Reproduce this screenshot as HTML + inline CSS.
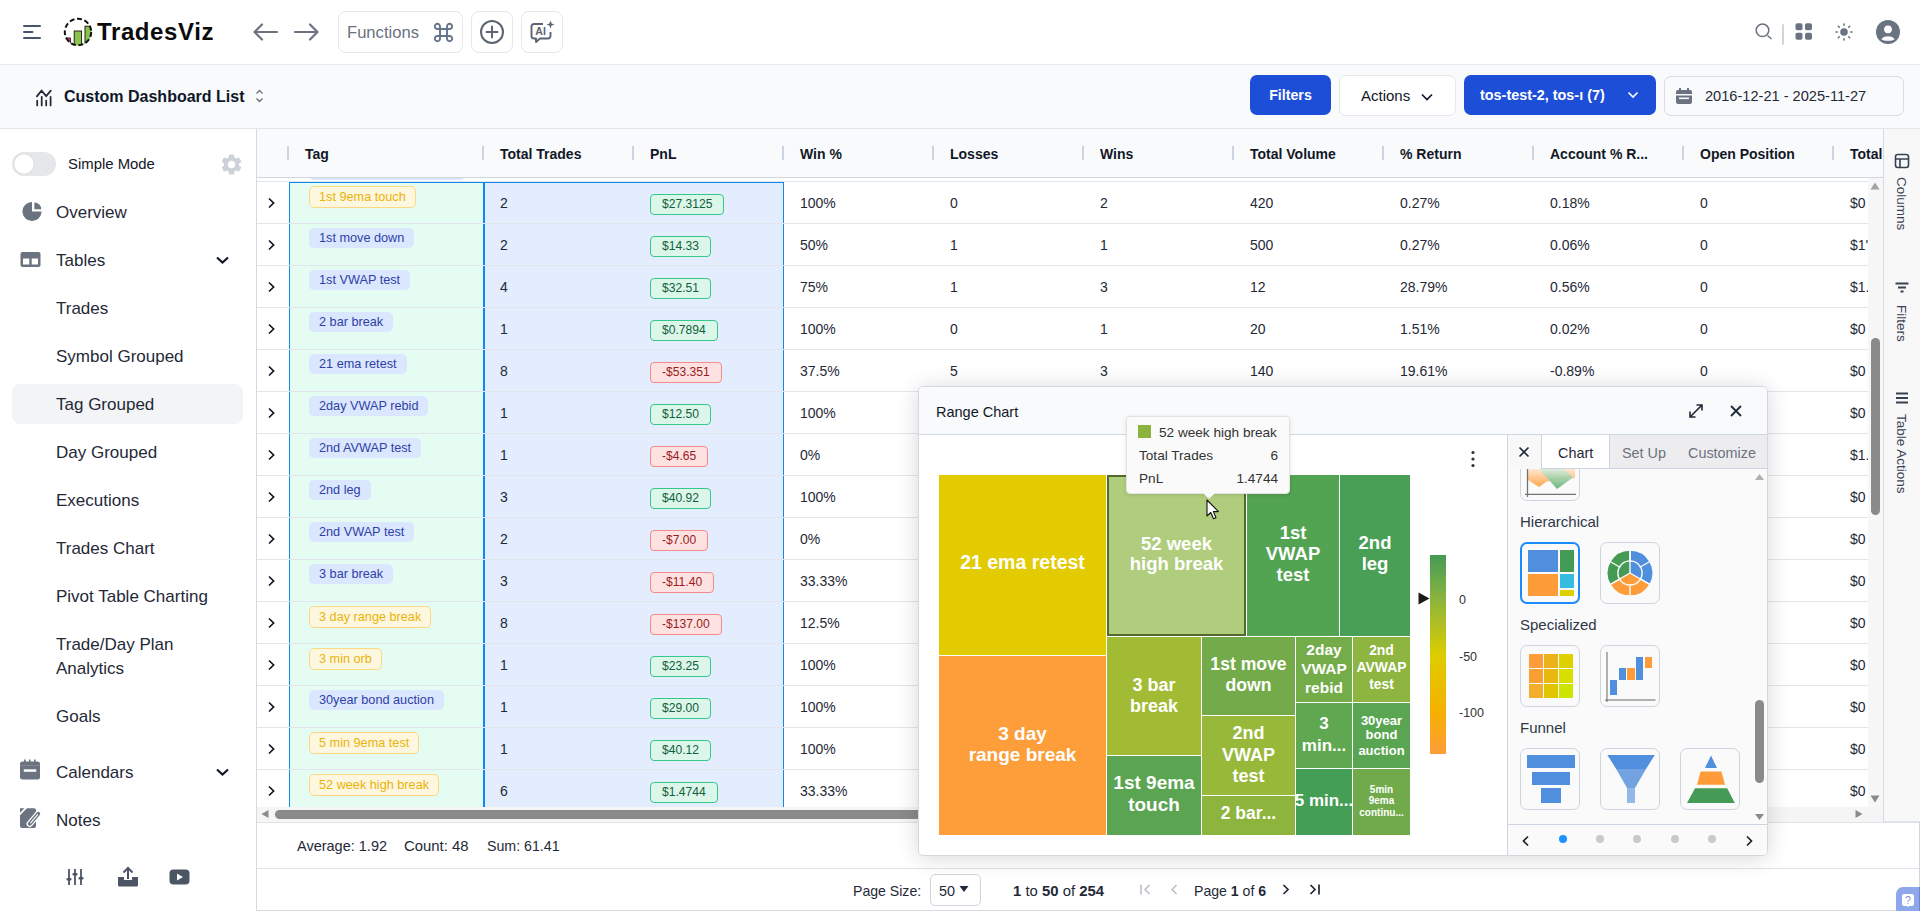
<!DOCTYPE html>
<html><head><meta charset="utf-8">
<style>
*{box-sizing:border-box;margin:0;padding:0}
html,body{width:1920px;height:911px;overflow:hidden;background:#fff;font-family:"Liberation Sans",sans-serif;color:#111827}
.abs{position:absolute}
#top{position:absolute;left:0;top:0;width:1920px;height:65px;background:#fff;border-bottom:1px solid #e5e7eb}
#sub{position:absolute;left:0;top:65px;width:1920px;height:64px;background:#f9fafb;border-bottom:1px solid #e2e5ea}
#side{position:absolute;left:0;top:129px;width:257px;height:782px;background:#fff;border-right:1px solid #d5d9e0}
.nav{position:absolute;left:56px;margin-top:1px;font-size:17px;color:#1f2937;white-space:nowrap}
.btnbox{position:absolute;top:11px;height:42px;border:1px solid #e5e7eb;border-radius:8px;background:#fff}
#tbl{position:absolute;left:257px;top:129px;width:1626px;height:693px;background:#fff;overflow:hidden}
#thead{position:absolute;left:0;top:0;width:1626px;height:49px;background:#f9fafb;border-bottom:1px solid #cfd6e0}
.hsep{position:absolute;top:146px;width:2px;height:14px;background:#cbd5e1}
.htext{position:absolute;top:130px;line-height:49px;font-size:14px;font-weight:bold;color:#111827;white-space:nowrap}
.rowline{position:absolute;left:257px;width:1611px;height:1px;background:#e2e6ec}
.chev{position:absolute;left:267px}
.cell{position:absolute;line-height:42px;font-size:14px;color:#1f2937;white-space:nowrap}
.badge{position:absolute;height:20px;line-height:20px;font-size:12.7px;padding:0 10px;border-radius:5px;white-space:nowrap}
.badge.b{background:#dbe7fe;color:#2f3fa6}
.badge.y{background:#fef7df;color:#eab308;border:1px solid #fcd980;height:22px;line-height:20px;padding:0 9px}
.pnl{position:absolute;height:21px;line-height:19px;font-size:12.1px;padding:0 11px;border-radius:4px;white-space:nowrap}
.pnl.g{background:#dcf7ea;color:#115e3b;border:1px solid #34c88a}
.vtext{writing-mode:vertical-rl;font-size:13.5px;color:#374151;white-space:nowrap;line-height:16px}
.tml{position:absolute;transform:translateX(-50%);color:#fff;font-weight:bold;white-space:nowrap}
.sclab{position:absolute;font-size:12.5px;color:#333;line-height:14px;margin-top:-7px}
.ttx{position:absolute;margin-top:1px;font-size:13.6px;color:#333;line-height:16px;white-space:nowrap}
.tab{position:absolute;top:58px;font-size:14.4px;color:#6b7280;white-space:nowrap;line-height:16px}
.sect{position:absolute;font-size:15px;color:#2d3748;white-space:nowrap;line-height:16px}
.dot{position:absolute;top:448px;width:8px;height:8px;border-radius:4px;background:#c9c9c9;margin-left:-4px}
.pnl.r{background:#fee2e2;color:#991b1b;border:1px solid #f58a8a}
</style></head><body>

<!-- TOP BAR -->
<div id="top">
  <svg class="abs" style="left:23px;top:24px" width="18" height="16" viewBox="0 0 18 16"><path d="M1 2h16M1 8h8.5M1 14h16" stroke="#475569" stroke-width="2" stroke-linecap="round"/></svg>
  <svg class="abs" style="left:63px;top:17px" width="30" height="30" viewBox="0 0 30 30"><defs><clipPath id="lc"><circle cx="15" cy="15" r="13.4"/></clipPath></defs>
    <g clip-path="url(#lc)">
    <rect x="1.5" y="21" width="6" height="12" fill="#e53e5a" stroke="#111" stroke-width="0.8"/>
    <rect x="11.2" y="14" width="7.4" height="18" fill="#8bc34a" stroke="#111" stroke-width="0.9"/>
    <rect x="22" y="9.2" width="8" height="22" fill="#8bc34a" stroke="#111" stroke-width="0.9"/>
    </g>
    <circle cx="15" cy="15" r="13.2" fill="none" stroke="#111" stroke-width="2" stroke-dasharray="5 2.6"/>
  </svg>
  <div class="abs" style="left:97px;top:18px;font-size:24px;font-weight:bold;color:#0b0b0b;letter-spacing:0.6px">TradesViz</div>
  <svg class="abs" style="left:252px;top:22px" width="28" height="20" viewBox="0 0 28 20"><path d="M3 10h22M10 2.5L2.5 10L10 17.5" fill="none" stroke="#6b7280" stroke-width="2.2" stroke-linecap="round" stroke-linejoin="round"/></svg>
  <svg class="abs" style="left:292px;top:22px" width="28" height="20" viewBox="0 0 28 20"><path d="M3 10h22M18 2.5L25.5 10L18 17.5" fill="none" stroke="#6b7280" stroke-width="2.2" stroke-linecap="round" stroke-linejoin="round"/></svg>
  <div class="btnbox" style="left:338px;width:125px"></div>
  <div class="abs" style="left:347px;top:23px;font-size:16.6px;color:#6b7280">Functions</div>
  <svg class="abs" style="left:432px;top:21px" width="24" height="23" viewBox="0 0 24 23"><path d="M8 8 V15 M15 8 V15 M8 8 H15 M8 15 H15 M8 8 H5.5 A2.6 2.6 0 1 1 8 5.5 Z M15 8 V5.5 A2.6 2.6 0 1 1 17.5 8 Z M8 15 V17.5 A2.6 2.6 0 1 1 5.5 15 Z M15 15 H17.5 A2.6 2.6 0 1 1 15 17.5 Z" fill="none" stroke="#64748b" stroke-width="1.9" stroke-linejoin="round"/></svg>
  <div class="btnbox" style="left:471px;width:42px"></div>
  <svg class="abs" style="left:479px;top:19px" width="26" height="26" viewBox="0 0 26 26"><circle cx="13" cy="13" r="11" fill="none" stroke="#5b6473" stroke-width="2"/><path d="M13 7.5v11M7.5 13h11" stroke="#5b6473" stroke-width="2" stroke-linecap="round"/></svg>
  <div class="btnbox" style="left:521px;width:42px"></div>
  <svg class="abs" style="left:529px;top:19px" width="27" height="26" viewBox="0 0 27 26"><path d="M14 5 H5 a2.5 2.5 0 0 0 -2.5 2.5 V17 a2.5 2.5 0 0 0 2.5 2.5 H7 V23 L11 19.5 H19 a2.5 2.5 0 0 0 2.5 -2.5 V13" fill="none" stroke="#5b6473" stroke-width="1.9" stroke-linejoin="round"/><path d="M21.5 1.5 L22.6 4.4 L25.5 5.5 L22.6 6.6 L21.5 9.5 L20.4 6.6 L17.5 5.5 L20.4 4.4Z" fill="#5b6473"/><text x="6.3" y="16.3" font-family="Liberation Sans" font-weight="bold" font-size="10.5" fill="#5b6473">AI</text></svg>

  <svg class="abs" style="left:1753px;top:21px" width="22" height="22" viewBox="0 0 22 22"><circle cx="9.5" cy="9.3" r="6.3" fill="none" stroke="#6b7280" stroke-width="1.5"/><path d="M14.5 14.5 L18.5 18" stroke="#6b7280" stroke-width="1.5"/></svg>
  <div class="abs" style="left:1782px;top:24px;width:2px;height:21px;background:#d1d5db;border-radius:1px"></div>
  <svg class="abs" style="left:1795px;top:23px" width="18" height="18" viewBox="0 0 18 18"><rect x="0.5" y="0.3" width="7" height="7" rx="1.8" fill="#6b7280"/><rect x="10" y="0.3" width="7" height="7" rx="1.8" fill="#6b7280"/><rect x="0.5" y="9.8" width="7" height="7" rx="1.8" fill="#6b7280"/><rect x="10" y="9.8" width="7" height="7" rx="1.8" fill="#6b7280"/></svg>
  <svg class="abs" style="left:1835px;top:23px" width="18" height="18" viewBox="0 0 18 18"><circle cx="9" cy="9" r="3.8" fill="#6b7280"/><g stroke="#6b7280" stroke-width="1.6" stroke-linecap="round"><path d="M9 1v1.2M9 15.8V17M1 9h1.2M15.8 9H17M3.3 3.3l.9.9M13.8 13.8l.9.9M3.3 14.7l.9-.9M13.8 4.2l.9-.9"/></g></svg>
  <svg class="abs" style="left:1876px;top:20px" width="24" height="24" viewBox="0 0 24 24"><circle cx="12" cy="12" r="12" fill="#6b7280"/><circle cx="12" cy="9.3" r="3.9" fill="#fff"/><path d="M5.5 19.5 C7 15.2 17 15.2 18.5 19.5 C16.5 21.3 7.5 21.3 5.5 19.5Z" fill="#fff"/></svg>
</div>

<!-- SUB BAR -->
<div id="sub">
  <svg class="abs" style="left:35px;top:22px" width="18" height="20" viewBox="0 0 18 20"><path d="M2.2 13.6v4.8M6.7 9.8v8.6M11.2 13.6v4.8M15.6 9.8v8.6M1.9 9.4 L6.5 3.6 L11.2 9.1 L15.8 3.6" fill="none" stroke="#1f2937" stroke-width="1.75" stroke-linecap="round" stroke-linejoin="miter"/></svg>
  <div class="abs" style="left:64px;top:23px;font-size:16px;font-weight:bold;color:#0f172a">Custom Dashboard List</div>
  <svg class="abs" style="left:255px;top:23px" width="9" height="16" viewBox="0 0 9 16"><path d="M1.5 5.5L4.5 2.5L7.5 5.5M1.5 10.5L4.5 13.5L7.5 10.5" fill="none" stroke="#6b7280" stroke-width="1.4"/></svg>
  <div class="abs" style="left:1250px;top:10px;width:81px;height:40px;background:#1d4ed8;border-radius:7px;color:#fff;font-weight:bold;font-size:14.2px;line-height:41px;text-align:center">Filters</div>
  <div class="abs" style="left:1339px;top:10px;width:117px;height:41px;background:#fff;border:1px solid #e5e7eb;border-radius:7px"></div>
  <div class="abs" style="left:1361px;top:22px;font-size:15px;color:#111827">Actions</div>
  <svg class="abs" style="left:1420px;top:27px" width="14" height="10" viewBox="0 0 14 10"><path d="M2 2.5L7 7.5L12 2.5" fill="none" stroke="#111827" stroke-width="1.7"/></svg>
  <div class="abs" style="left:1464px;top:10px;width:192px;height:40px;background:#1d4ed8;border-radius:7px"></div>
  <div class="abs" style="left:1480px;top:22px;font-size:14.4px;color:#fff;font-weight:bold">tos-test-2, tos-ı (7)</div>
  <svg class="abs" style="left:1626px;top:25px" width="14" height="10" viewBox="0 0 14 10"><path d="M2.5 2.5L7 7L11.5 2.5" fill="none" stroke="#fff" stroke-width="1.6"/></svg>
  <div class="abs" style="left:1664px;top:11px;width:240px;height:40px;background:#f9fafb;border:1px solid #d8dce3;border-radius:7px"></div>
  <svg class="abs" style="left:1675px;top:22px" width="18" height="18" viewBox="0 0 18 18"><rect x="1" y="3" width="16" height="14" rx="2" fill="#6b7280"/><rect x="1" y="7" width="16" height="1.5" fill="#f9fafb"/><path d="M5 1v3.5M13 1v3.5" stroke="#6b7280" stroke-width="2"/><rect x="4" y="10.5" width="10" height="1.6" fill="#f9fafb"/></svg>
  <div class="abs" style="left:1705px;top:23px;font-size:14.6px;color:#1f2937">2016-12-21 - 2025-11-27</div>
</div>

<!-- SIDEBAR -->
<div id="side">
  <div class="abs" style="left:12px;top:23px;width:44px;height:24px;border-radius:12px;background:#e5e7eb"></div>
  <div class="abs" style="left:14px;top:25px;width:20px;height:20px;border-radius:10px;background:#fff;box-shadow:0 0 1px rgba(0,0,0,.3)"></div>
  <div class="abs" style="left:68px;top:27px;font-size:14.9px;color:#111827">Simple Mode</div>
  <svg class="abs" style="left:218.5px;top:22.5px" width="25" height="25" viewBox="0 0 24 24"><path fill="#cdd1d8" d="M19.14 12.94c.04-.3.06-.61.06-.94 0-.32-.02-.64-.07-.94l2.03-1.58a.49.49 0 0 0 .12-.61l-1.92-3.32a.488.488 0 0 0-.59-.22l-2.39.96c-.5-.38-1.03-.7-1.62-.94l-.36-2.54a.484.484 0 0 0-.48-.41h-3.84c-.24 0-.43.17-.47.41l-.36 2.54c-.59.24-1.13.57-1.62.94l-2.39-.96c-.22-.08-.47 0-.59.22L2.74 8.87c-.12.21-.08.47.12.61l2.03 1.58c-.05.3-.09.63-.09.94s.02.64.07.94l-2.03 1.58a.49.49 0 0 0-.12.61l1.92 3.32c.12.22.37.29.59.22l2.39-.96c.5.38 1.03.7 1.62.94l.36 2.54c.05.24.24.41.48.41h3.84c.24 0 .44-.17.47-.41l.36-2.54c.59-.24 1.13-.56 1.62-.94l2.39.96c.22.08.47 0 .59-.22l1.92-3.32c.12-.22.07-.47-.12-.61l-2.01-1.58zM12 15.6c-1.98 0-3.6-1.62-3.6-3.6s1.62-3.6 3.6-3.6 3.6 1.62 3.6 3.6-1.62 3.6-3.6 3.6z"/></svg>

  <svg class="abs" style="left:21px;top:72px" width="22" height="21" viewBox="0 0 22 21"><path d="M11 10.5 V0.9 A9.6 9.6 0 1 0 20.6 10.5 Z" fill="#6b7280"/><path d="M13.4 8.3 V1.4 A6.9 6.9 0 0 1 20.3 8.3 Z" fill="#6b7280"/></svg>
  <div class="nav" style="top:73px">Overview</div>
  <svg class="abs" style="left:20px;top:122px" width="21" height="17" viewBox="0 0 21 17"><rect x="0.5" y="1" width="20" height="15" rx="2" fill="#6b7280"/><rect x="3" y="7.5" width="6.3" height="6" fill="#fff"/><rect x="11.7" y="7.5" width="6.3" height="6" fill="#fff"/></svg>
  <div class="nav" style="top:121px">Tables</div>
  <svg class="abs" style="left:215px;top:126px" width="15" height="10" viewBox="0 0 15 10"><path d="M2 2.5L7.5 7.5L13 2.5" fill="none" stroke="#111827" stroke-width="2.2"/></svg>
  <div class="nav" style="top:169px">Trades</div>
  <div class="nav" style="top:217px">Symbol Grouped</div>
  <div class="abs" style="left:12px;top:255px;width:231px;height:40px;background:#f3f4f6;border-radius:8px"></div>
  <div class="nav" style="top:265px">Tag Grouped</div>
  <div class="nav" style="top:313px">Day Grouped</div>
  <div class="nav" style="top:361px">Executions</div>
  <div class="nav" style="top:409px">Trades Chart</div>
  <div class="nav" style="top:457px">Pivot Table Charting</div>
  <div class="nav" style="top:505px">Trade/Day Plan</div>
  <div class="nav" style="top:529px">Analytics</div>
  <div class="nav" style="top:577px">Goals</div>
  <svg class="abs" style="left:19px;top:630px" width="22" height="22" viewBox="0 0 22 22"><path d="M5.8 0.5v3M10.8 0.5v3M15.8 0.5v3" stroke="#6b7280" stroke-width="1.6"/><rect x="1" y="2.5" width="20" height="18" rx="2.5" fill="#6b7280"/><rect x="1" y="6.2" width="20" height="0.7" fill="#8a909b"/><rect x="4.8" y="10.3" width="12.4" height="2.5" fill="#fff"/></svg>
  <div class="nav" style="top:633px">Calendars</div>
  <svg class="abs" style="left:215px;top:638px" width="15" height="10" viewBox="0 0 15 10"><path d="M2 2.5L7.5 7.5L13 2.5" fill="none" stroke="#111827" stroke-width="2.2"/></svg>
  <svg class="abs" style="left:19px;top:678px" width="22" height="22" viewBox="0 0 22 22"><path d="M1 1.2 H5.5 L1 5.7Z" fill="#6b7280"/><path d="M1 8.2 L8 1.2 H15 a2 2 0 0 1 2 2 V19 a2 2 0 0 1 -2 2 H3 a2 2 0 0 1 -2 -2Z" fill="#6b7280"/><path d="M19.3 6.8 L10.8 16.8" stroke="#fff" stroke-width="6.4" stroke-linecap="round"/><path d="M19.3 6.8 L10.8 16.8" stroke="#6b7280" stroke-width="3.8" stroke-linecap="round"/><path d="M18.6 7.6 L11.6 15.9" stroke="#fff" stroke-width="1.1" stroke-linecap="round"/></svg>
  <div class="nav" style="top:681px">Notes</div>
  <svg class="abs" style="left:66px;top:739px" width="18" height="18" viewBox="0 0 18 18"><path d="M3 1v16M9 1v16M15 1v16" stroke="#4b5563" stroke-width="1.8"/><rect x="0.5" y="10" width="5" height="2.4" rx="1" fill="#4b5563"/><rect x="6.5" y="5" width="5" height="2.4" rx="1" fill="#4b5563"/><rect x="12.5" y="9" width="5" height="2.4" rx="1" fill="#4b5563"/></svg>
  <svg class="abs" style="left:117px;top:737px" width="22" height="21" viewBox="0 0 22 21"><path d="M11 13V2M6.5 6.5L11 2L15.5 6.5" fill="none" stroke="#4b5563" stroke-width="2"/><path d="M1 11 H7 V14 H15 V11 H21 V19 a1.5 1.5 0 0 1 -1.5 1.5 H2.5 A1.5 1.5 0 0 1 1 19Z" fill="#4b5563"/></svg>
  <svg class="abs" style="left:169px;top:740px" width="21" height="16" viewBox="0 0 21 16"><rect x="0.5" y="0.5" width="20" height="15" rx="4" fill="#4b5563"/><path d="M8 4.5 L14 8 L8 11.5Z" fill="#fff"/></svg>
</div>

<!-- TABLE -->
<div class="badge b" style="left:309px;top:160px;width:156px">&nbsp;</div>
<div class="abs" style="left:257px;top:129px;width:1626px;height:49px;background:#f9fafb;border-bottom:1px solid #cfd6e0"></div>
<div class="hsep" style="left:287px"></div>
<div class="htext" style="left:305px">Tag</div>
<div class="hsep" style="left:482px"></div>
<div class="htext" style="left:500px">Total Trades</div>
<div class="hsep" style="left:632px"></div>
<div class="htext" style="left:650px">PnL</div>
<div class="hsep" style="left:782px"></div>
<div class="htext" style="left:800px">Win %</div>
<div class="hsep" style="left:932px"></div>
<div class="htext" style="left:950px">Losses</div>
<div class="hsep" style="left:1082px"></div>
<div class="htext" style="left:1100px">Wins</div>
<div class="hsep" style="left:1232px"></div>
<div class="htext" style="left:1250px">Total Volume</div>
<div class="hsep" style="left:1382px"></div>
<div class="htext" style="left:1400px">% Return</div>
<div class="hsep" style="left:1532px"></div>
<div class="htext" style="left:1550px">Account % R...</div>
<div class="hsep" style="left:1682px"></div>
<div class="htext" style="left:1700px">Open Position</div>
<div class="hsep" style="left:1832px"></div>
<div class="htext" style="left:1850px">Total</div>
<!-- selection backgrounds -->
<div class="abs" style="left:289px;top:182px;width:195px;height:625px;background:#e4fcf2"></div>
<div class="abs" style="left:484px;top:182px;width:299px;height:625px;background:#e3edfd"></div>
<div class="rowline" style="top:181px"></div>
<div class="rowline" style="top:223px"></div>
<div class="chev" style="top:194.5px"><svg width="9" height="12" viewBox="0 0 9 12"><path d="M2 1.5 L6.6 6 L2 10.5" fill="none" stroke="#111827" stroke-width="1.7"/></svg></div>
<div class="badge y" style="left:309px;top:186px">1st 9ema touch</div>
<div class="cell" style="left:500px;top:182px">2</div>
<div class="pnl g" style="left:650px;top:194.0px">$27.3125</div>
<div class="cell" style="left:800px;top:182px">100%</div>
<div class="cell" style="left:950px;top:182px">0</div>
<div class="cell" style="left:1100px;top:182px">2</div>
<div class="cell" style="left:1250px;top:182px">420</div>
<div class="cell" style="left:1400px;top:182px">0.27%</div>
<div class="cell" style="left:1550px;top:182px">0.18%</div>
<div class="cell" style="left:1700px;top:182px">0</div>
<div class="cell" style="left:1850px;top:182px">$0</div>
<div class="rowline" style="top:265px"></div>
<div class="chev" style="top:236.5px"><svg width="9" height="12" viewBox="0 0 9 12"><path d="M2 1.5 L6.6 6 L2 10.5" fill="none" stroke="#111827" stroke-width="1.7"/></svg></div>
<div class="badge b" style="left:309px;top:228px">1st move down</div>
<div class="cell" style="left:500px;top:224px">2</div>
<div class="pnl g" style="left:650px;top:236.0px">$14.33</div>
<div class="cell" style="left:800px;top:224px">50%</div>
<div class="cell" style="left:950px;top:224px">1</div>
<div class="cell" style="left:1100px;top:224px">1</div>
<div class="cell" style="left:1250px;top:224px">500</div>
<div class="cell" style="left:1400px;top:224px">0.27%</div>
<div class="cell" style="left:1550px;top:224px">0.06%</div>
<div class="cell" style="left:1700px;top:224px">0</div>
<div class="cell" style="left:1850px;top:224px">$1'</div>
<div class="rowline" style="top:307px"></div>
<div class="chev" style="top:278.5px"><svg width="9" height="12" viewBox="0 0 9 12"><path d="M2 1.5 L6.6 6 L2 10.5" fill="none" stroke="#111827" stroke-width="1.7"/></svg></div>
<div class="badge b" style="left:309px;top:270px">1st VWAP test</div>
<div class="cell" style="left:500px;top:266px">4</div>
<div class="pnl g" style="left:650px;top:278.0px">$32.51</div>
<div class="cell" style="left:800px;top:266px">75%</div>
<div class="cell" style="left:950px;top:266px">1</div>
<div class="cell" style="left:1100px;top:266px">3</div>
<div class="cell" style="left:1250px;top:266px">12</div>
<div class="cell" style="left:1400px;top:266px">28.79%</div>
<div class="cell" style="left:1550px;top:266px">0.56%</div>
<div class="cell" style="left:1700px;top:266px">0</div>
<div class="cell" style="left:1850px;top:266px">$1.</div>
<div class="rowline" style="top:349px"></div>
<div class="chev" style="top:320.5px"><svg width="9" height="12" viewBox="0 0 9 12"><path d="M2 1.5 L6.6 6 L2 10.5" fill="none" stroke="#111827" stroke-width="1.7"/></svg></div>
<div class="badge b" style="left:309px;top:312px">2 bar break</div>
<div class="cell" style="left:500px;top:308px">1</div>
<div class="pnl g" style="left:650px;top:320.0px">$0.7894</div>
<div class="cell" style="left:800px;top:308px">100%</div>
<div class="cell" style="left:950px;top:308px">0</div>
<div class="cell" style="left:1100px;top:308px">1</div>
<div class="cell" style="left:1250px;top:308px">20</div>
<div class="cell" style="left:1400px;top:308px">1.51%</div>
<div class="cell" style="left:1550px;top:308px">0.02%</div>
<div class="cell" style="left:1700px;top:308px">0</div>
<div class="cell" style="left:1850px;top:308px">$0</div>
<div class="rowline" style="top:391px"></div>
<div class="chev" style="top:362.5px"><svg width="9" height="12" viewBox="0 0 9 12"><path d="M2 1.5 L6.6 6 L2 10.5" fill="none" stroke="#111827" stroke-width="1.7"/></svg></div>
<div class="badge b" style="left:309px;top:354px">21 ema retest</div>
<div class="cell" style="left:500px;top:350px">8</div>
<div class="pnl r" style="left:650px;top:362.0px">-$53.351</div>
<div class="cell" style="left:800px;top:350px">37.5%</div>
<div class="cell" style="left:950px;top:350px">5</div>
<div class="cell" style="left:1100px;top:350px">3</div>
<div class="cell" style="left:1250px;top:350px">140</div>
<div class="cell" style="left:1400px;top:350px">19.61%</div>
<div class="cell" style="left:1550px;top:350px">-0.89%</div>
<div class="cell" style="left:1700px;top:350px">0</div>
<div class="cell" style="left:1850px;top:350px">$0</div>
<div class="rowline" style="top:433px"></div>
<div class="chev" style="top:404.5px"><svg width="9" height="12" viewBox="0 0 9 12"><path d="M2 1.5 L6.6 6 L2 10.5" fill="none" stroke="#111827" stroke-width="1.7"/></svg></div>
<div class="badge b" style="left:309px;top:396px">2day VWAP rebid</div>
<div class="cell" style="left:500px;top:392px">1</div>
<div class="pnl g" style="left:650px;top:404.0px">$12.50</div>
<div class="cell" style="left:800px;top:392px">100%</div>
<div class="cell" style="left:950px;top:392px">0</div>
<div class="cell" style="left:1100px;top:392px">1</div>
<div class="cell" style="left:1250px;top:392px">20</div>
<div class="cell" style="left:1400px;top:392px">1.51%</div>
<div class="cell" style="left:1550px;top:392px">0.02%</div>
<div class="cell" style="left:1700px;top:392px">0</div>
<div class="cell" style="left:1850px;top:392px">$0</div>
<div class="rowline" style="top:475px"></div>
<div class="chev" style="top:446.5px"><svg width="9" height="12" viewBox="0 0 9 12"><path d="M2 1.5 L6.6 6 L2 10.5" fill="none" stroke="#111827" stroke-width="1.7"/></svg></div>
<div class="badge b" style="left:309px;top:438px">2nd AVWAP test</div>
<div class="cell" style="left:500px;top:434px">1</div>
<div class="pnl r" style="left:650px;top:446.0px">-$4.65</div>
<div class="cell" style="left:800px;top:434px">0%</div>
<div class="cell" style="left:950px;top:434px">1</div>
<div class="cell" style="left:1100px;top:434px">0</div>
<div class="cell" style="left:1250px;top:434px">20</div>
<div class="cell" style="left:1400px;top:434px">1.51%</div>
<div class="cell" style="left:1550px;top:434px">0.02%</div>
<div class="cell" style="left:1700px;top:434px">0</div>
<div class="cell" style="left:1850px;top:434px">$1.</div>
<div class="rowline" style="top:517px"></div>
<div class="chev" style="top:488.5px"><svg width="9" height="12" viewBox="0 0 9 12"><path d="M2 1.5 L6.6 6 L2 10.5" fill="none" stroke="#111827" stroke-width="1.7"/></svg></div>
<div class="badge b" style="left:309px;top:480px">2nd leg</div>
<div class="cell" style="left:500px;top:476px">3</div>
<div class="pnl g" style="left:650px;top:488.0px">$40.92</div>
<div class="cell" style="left:800px;top:476px">100%</div>
<div class="cell" style="left:950px;top:476px">0</div>
<div class="cell" style="left:1100px;top:476px">3</div>
<div class="cell" style="left:1250px;top:476px">20</div>
<div class="cell" style="left:1400px;top:476px">1.51%</div>
<div class="cell" style="left:1550px;top:476px">0.02%</div>
<div class="cell" style="left:1700px;top:476px">0</div>
<div class="cell" style="left:1850px;top:476px">$0</div>
<div class="rowline" style="top:559px"></div>
<div class="chev" style="top:530.5px"><svg width="9" height="12" viewBox="0 0 9 12"><path d="M2 1.5 L6.6 6 L2 10.5" fill="none" stroke="#111827" stroke-width="1.7"/></svg></div>
<div class="badge b" style="left:309px;top:522px">2nd VWAP test</div>
<div class="cell" style="left:500px;top:518px">2</div>
<div class="pnl r" style="left:650px;top:530.0px">-$7.00</div>
<div class="cell" style="left:800px;top:518px">0%</div>
<div class="cell" style="left:950px;top:518px">2</div>
<div class="cell" style="left:1100px;top:518px">0</div>
<div class="cell" style="left:1250px;top:518px">20</div>
<div class="cell" style="left:1400px;top:518px">1.51%</div>
<div class="cell" style="left:1550px;top:518px">0.02%</div>
<div class="cell" style="left:1700px;top:518px">0</div>
<div class="cell" style="left:1850px;top:518px">$0</div>
<div class="rowline" style="top:601px"></div>
<div class="chev" style="top:572.5px"><svg width="9" height="12" viewBox="0 0 9 12"><path d="M2 1.5 L6.6 6 L2 10.5" fill="none" stroke="#111827" stroke-width="1.7"/></svg></div>
<div class="badge b" style="left:309px;top:564px">3 bar break</div>
<div class="cell" style="left:500px;top:560px">3</div>
<div class="pnl r" style="left:650px;top:572.0px">-$11.40</div>
<div class="cell" style="left:800px;top:560px">33.33%</div>
<div class="cell" style="left:950px;top:560px">2</div>
<div class="cell" style="left:1100px;top:560px">1</div>
<div class="cell" style="left:1250px;top:560px">20</div>
<div class="cell" style="left:1400px;top:560px">1.51%</div>
<div class="cell" style="left:1550px;top:560px">0.02%</div>
<div class="cell" style="left:1700px;top:560px">0</div>
<div class="cell" style="left:1850px;top:560px">$0</div>
<div class="rowline" style="top:643px"></div>
<div class="chev" style="top:614.5px"><svg width="9" height="12" viewBox="0 0 9 12"><path d="M2 1.5 L6.6 6 L2 10.5" fill="none" stroke="#111827" stroke-width="1.7"/></svg></div>
<div class="badge y" style="left:309px;top:606px">3 day range break</div>
<div class="cell" style="left:500px;top:602px">8</div>
<div class="pnl r" style="left:650px;top:614.0px">-$137.00</div>
<div class="cell" style="left:800px;top:602px">12.5%</div>
<div class="cell" style="left:950px;top:602px">7</div>
<div class="cell" style="left:1100px;top:602px">1</div>
<div class="cell" style="left:1250px;top:602px">20</div>
<div class="cell" style="left:1400px;top:602px">1.51%</div>
<div class="cell" style="left:1550px;top:602px">0.02%</div>
<div class="cell" style="left:1700px;top:602px">0</div>
<div class="cell" style="left:1850px;top:602px">$0</div>
<div class="rowline" style="top:685px"></div>
<div class="chev" style="top:656.5px"><svg width="9" height="12" viewBox="0 0 9 12"><path d="M2 1.5 L6.6 6 L2 10.5" fill="none" stroke="#111827" stroke-width="1.7"/></svg></div>
<div class="badge y" style="left:309px;top:648px">3 min orb</div>
<div class="cell" style="left:500px;top:644px">1</div>
<div class="pnl g" style="left:650px;top:656.0px">$23.25</div>
<div class="cell" style="left:800px;top:644px">100%</div>
<div class="cell" style="left:950px;top:644px">0</div>
<div class="cell" style="left:1100px;top:644px">1</div>
<div class="cell" style="left:1250px;top:644px">20</div>
<div class="cell" style="left:1400px;top:644px">1.51%</div>
<div class="cell" style="left:1550px;top:644px">0.02%</div>
<div class="cell" style="left:1700px;top:644px">0</div>
<div class="cell" style="left:1850px;top:644px">$0</div>
<div class="rowline" style="top:727px"></div>
<div class="chev" style="top:698.5px"><svg width="9" height="12" viewBox="0 0 9 12"><path d="M2 1.5 L6.6 6 L2 10.5" fill="none" stroke="#111827" stroke-width="1.7"/></svg></div>
<div class="badge b" style="left:309px;top:690px">30year bond auction</div>
<div class="cell" style="left:500px;top:686px">1</div>
<div class="pnl g" style="left:650px;top:698.0px">$29.00</div>
<div class="cell" style="left:800px;top:686px">100%</div>
<div class="cell" style="left:950px;top:686px">0</div>
<div class="cell" style="left:1100px;top:686px">1</div>
<div class="cell" style="left:1250px;top:686px">20</div>
<div class="cell" style="left:1400px;top:686px">1.51%</div>
<div class="cell" style="left:1550px;top:686px">0.02%</div>
<div class="cell" style="left:1700px;top:686px">0</div>
<div class="cell" style="left:1850px;top:686px">$0</div>
<div class="rowline" style="top:769px"></div>
<div class="chev" style="top:740.5px"><svg width="9" height="12" viewBox="0 0 9 12"><path d="M2 1.5 L6.6 6 L2 10.5" fill="none" stroke="#111827" stroke-width="1.7"/></svg></div>
<div class="badge y" style="left:309px;top:732px">5 min 9ema test</div>
<div class="cell" style="left:500px;top:728px">1</div>
<div class="pnl g" style="left:650px;top:740.0px">$40.12</div>
<div class="cell" style="left:800px;top:728px">100%</div>
<div class="cell" style="left:950px;top:728px">0</div>
<div class="cell" style="left:1100px;top:728px">1</div>
<div class="cell" style="left:1250px;top:728px">20</div>
<div class="cell" style="left:1400px;top:728px">1.51%</div>
<div class="cell" style="left:1550px;top:728px">0.02%</div>
<div class="cell" style="left:1700px;top:728px">0</div>
<div class="cell" style="left:1850px;top:728px">$0</div>
<div class="rowline" style="top:811px"></div>
<div class="chev" style="top:782.5px"><svg width="9" height="12" viewBox="0 0 9 12"><path d="M2 1.5 L6.6 6 L2 10.5" fill="none" stroke="#111827" stroke-width="1.7"/></svg></div>
<div class="badge y" style="left:309px;top:774px">52 week high break</div>
<div class="cell" style="left:500px;top:770px">6</div>
<div class="pnl g" style="left:650px;top:782.0px">$1.4744</div>
<div class="cell" style="left:800px;top:770px">33.33%</div>
<div class="cell" style="left:950px;top:770px">4</div>
<div class="cell" style="left:1100px;top:770px">2</div>
<div class="cell" style="left:1250px;top:770px">20</div>
<div class="cell" style="left:1400px;top:770px">1.51%</div>
<div class="cell" style="left:1550px;top:770px">0.02%</div>
<div class="cell" style="left:1700px;top:770px">0</div>
<div class="cell" style="left:1850px;top:770px">$0</div>
<div class="abs" style="left:289px;top:182px;width:495px;height:1px;background:#0e87f0"></div>
<div class="abs" style="left:289px;top:182px;width:1px;height:41px;background:#0e87f0"></div>
<div class="abs" style="left:483px;top:182px;width:2px;height:41px;background:#0e87f0"></div>
<div class="abs" style="left:783px;top:182px;width:1px;height:41px;background:#0e87f0"></div>
<div class="abs" style="left:289px;top:224px;width:1px;height:41px;background:#0e87f0"></div>
<div class="abs" style="left:483px;top:224px;width:2px;height:41px;background:#0e87f0"></div>
<div class="abs" style="left:783px;top:224px;width:1px;height:41px;background:#0e87f0"></div>
<div class="abs" style="left:289px;top:266px;width:1px;height:41px;background:#0e87f0"></div>
<div class="abs" style="left:483px;top:266px;width:2px;height:41px;background:#0e87f0"></div>
<div class="abs" style="left:783px;top:266px;width:1px;height:41px;background:#0e87f0"></div>
<div class="abs" style="left:289px;top:308px;width:1px;height:41px;background:#0e87f0"></div>
<div class="abs" style="left:483px;top:308px;width:2px;height:41px;background:#0e87f0"></div>
<div class="abs" style="left:783px;top:308px;width:1px;height:41px;background:#0e87f0"></div>
<div class="abs" style="left:289px;top:350px;width:1px;height:41px;background:#0e87f0"></div>
<div class="abs" style="left:483px;top:350px;width:2px;height:41px;background:#0e87f0"></div>
<div class="abs" style="left:783px;top:350px;width:1px;height:41px;background:#0e87f0"></div>
<div class="abs" style="left:289px;top:392px;width:1px;height:41px;background:#0e87f0"></div>
<div class="abs" style="left:483px;top:392px;width:2px;height:41px;background:#0e87f0"></div>
<div class="abs" style="left:783px;top:392px;width:1px;height:41px;background:#0e87f0"></div>
<div class="abs" style="left:289px;top:434px;width:1px;height:41px;background:#0e87f0"></div>
<div class="abs" style="left:483px;top:434px;width:2px;height:41px;background:#0e87f0"></div>
<div class="abs" style="left:783px;top:434px;width:1px;height:41px;background:#0e87f0"></div>
<div class="abs" style="left:289px;top:476px;width:1px;height:41px;background:#0e87f0"></div>
<div class="abs" style="left:483px;top:476px;width:2px;height:41px;background:#0e87f0"></div>
<div class="abs" style="left:783px;top:476px;width:1px;height:41px;background:#0e87f0"></div>
<div class="abs" style="left:289px;top:518px;width:1px;height:41px;background:#0e87f0"></div>
<div class="abs" style="left:483px;top:518px;width:2px;height:41px;background:#0e87f0"></div>
<div class="abs" style="left:783px;top:518px;width:1px;height:41px;background:#0e87f0"></div>
<div class="abs" style="left:289px;top:560px;width:1px;height:41px;background:#0e87f0"></div>
<div class="abs" style="left:483px;top:560px;width:2px;height:41px;background:#0e87f0"></div>
<div class="abs" style="left:783px;top:560px;width:1px;height:41px;background:#0e87f0"></div>
<div class="abs" style="left:289px;top:602px;width:1px;height:41px;background:#0e87f0"></div>
<div class="abs" style="left:483px;top:602px;width:2px;height:41px;background:#0e87f0"></div>
<div class="abs" style="left:783px;top:602px;width:1px;height:41px;background:#0e87f0"></div>
<div class="abs" style="left:289px;top:644px;width:1px;height:41px;background:#0e87f0"></div>
<div class="abs" style="left:483px;top:644px;width:2px;height:41px;background:#0e87f0"></div>
<div class="abs" style="left:783px;top:644px;width:1px;height:41px;background:#0e87f0"></div>
<div class="abs" style="left:289px;top:686px;width:1px;height:41px;background:#0e87f0"></div>
<div class="abs" style="left:483px;top:686px;width:2px;height:41px;background:#0e87f0"></div>
<div class="abs" style="left:783px;top:686px;width:1px;height:41px;background:#0e87f0"></div>
<div class="abs" style="left:289px;top:728px;width:1px;height:41px;background:#0e87f0"></div>
<div class="abs" style="left:483px;top:728px;width:2px;height:41px;background:#0e87f0"></div>
<div class="abs" style="left:783px;top:728px;width:1px;height:41px;background:#0e87f0"></div>
<div class="abs" style="left:289px;top:770px;width:1px;height:37px;background:#0e87f0"></div>
<div class="abs" style="left:483px;top:770px;width:2px;height:37px;background:#0e87f0"></div>
<div class="abs" style="left:783px;top:770px;width:1px;height:37px;background:#0e87f0"></div>
<!-- header overlay on top of partial row -->
<!-- vertical scrollbar -->
<div class="abs" style="left:1868px;top:178px;width:15px;height:630px;background:#f7f7f7"></div>
<svg class="abs" style="left:1869px;top:181px" width="12" height="10" viewBox="0 0 12 10"><path d="M1.5 8.5 L6 1.5 L10.5 8.5Z" fill="#a3a3a3"/></svg>
<div class="abs" style="left:1871px;top:338px;width:9px;height:177px;background:#8a8a8a;border-radius:5px"></div>
<svg class="abs" style="left:1869px;top:794px" width="12" height="10" viewBox="0 0 12 10"><path d="M1.5 1.5 L6 8.5 L10.5 1.5Z" fill="#8a8a8a"/></svg>
<!-- horizontal scrollbar -->
<div class="abs" style="left:257px;top:807px;width:1626px;height:15px;background:#f5f5f5"></div>
<svg class="abs" style="left:259px;top:808px" width="12" height="12" viewBox="0 0 12 12"><path d="M9.5 2 L2.5 6 L9.5 10Z" fill="#8a8a8a"/></svg>
<div class="abs" style="left:275px;top:810px;width:1100px;height:9px;background:#8a8a8a;border-radius:5px"></div>
<svg class="abs" style="left:1853px;top:808px" width="12" height="12" viewBox="0 0 12 12"><path d="M2.5 2 L9.5 6 L2.5 10Z" fill="#8a8a8a"/></svg>
<!-- status bar -->
<div class="abs" style="left:257px;top:822px;width:1663px;height:1px;background:#dfe4ea"></div>
<div class="abs" style="left:297px;top:837.7px;font-size:14.5px;color:#1f2937;white-space:nowrap">Average: 1.92</div>
<div class="abs" style="left:404px;top:837.7px;font-size:14.9px;color:#1f2937;white-space:nowrap">Count: 48</div>
<div class="abs" style="left:487px;top:837.7px;font-size:14.2px;color:#1f2937;white-space:nowrap">Sum: 61.41</div>
<div class="abs" style="left:257px;top:868px;width:1663px;height:1px;background:#dfe4ea"></div>
<!-- pagination -->
<div class="abs" style="left:853px;top:882.5px;font-size:14.1px;color:#1f2937;white-space:nowrap">Page Size:</div>
<div class="abs" style="left:930px;top:874px;width:51px;height:32px;border:1px solid #d1d5db;border-radius:5px;background:#fff"></div>
<div class="abs" style="left:939px;top:882.5px;font-size:14.4px;color:#1f2937">50</div>
<svg class="abs" style="left:959px;top:885px" width="10" height="8" viewBox="0 0 10 8"><path d="M0.5 1 L9.5 1 L5 7Z" fill="#1f2937"/></svg>
<div class="abs" style="left:1013px;top:882.5px;font-size:14.9px;color:#1f2937;white-space:nowrap"><b>1</b> to <b>50</b> of <b>254</b></div>
<svg class="abs" style="left:1139px;top:883px" width="13" height="13" viewBox="0 0 13 13"><path d="M2 1.5v10M10.5 2L6 6.5L10.5 11" fill="none" stroke="#b8bcc4" stroke-width="1.5"/></svg>
<svg class="abs" style="left:1168px;top:883px" width="12" height="13" viewBox="0 0 12 13"><path d="M8.5 2L4 6.5L8.5 11" fill="none" stroke="#b8bcc4" stroke-width="1.5"/></svg>
<div class="abs" style="left:1194px;top:882.5px;font-size:14.1px;color:#1f2937;white-space:nowrap">Page <b>1</b> of <b>6</b></div>
<svg class="abs" style="left:1280px;top:883px" width="12" height="13" viewBox="0 0 12 13"><path d="M3.5 2L8 6.5L3.5 11" fill="none" stroke="#1f2937" stroke-width="1.7"/></svg>
<svg class="abs" style="left:1308px;top:883px" width="13" height="13" viewBox="0 0 13 13"><path d="M2.5 2L7 6.5L2.5 11M11 1.5v10" fill="none" stroke="#1f2937" stroke-width="1.7"/></svg>
<div class="abs" style="left:257px;top:910px;width:1663px;height:1px;background:#d5d9e0"></div>
<!-- help badge -->
<div class="abs" style="left:1919px;top:129px;width:1px;height:782px;background:#cfd6df"></div>
<div class="abs" style="left:1896px;top:887px;width:24px;height:24px;background:#8ea6ea;border-radius:7px 0 0 0;border-right:1px solid #6d86d6"></div>
<svg class="abs" style="left:1901px;top:893px" width="16" height="16" viewBox="0 0 16 16"><rect x="1" y="1" width="12" height="12" rx="2" fill="#fff"/><path d="M6 13 L7 14.2 L8 13Z" fill="#fff"/><text x="7" y="11" text-anchor="middle" font-family="Liberation Sans" font-size="10.5" fill="#7b8fe0">?</text></svg>
<!-- right side panel -->
<div class="abs" style="left:1883px;top:129px;width:37px;height:693px;background:#f8f8f8;border-left:1px solid #d5dbe3;border-bottom:1px solid #dfe4ea"></div>
<svg class="abs" style="left:1894px;top:153px" width="16" height="16" viewBox="0 0 16 16"><rect x="1.5" y="1.5" width="13" height="13" rx="2.2" fill="none" stroke="#374151" stroke-width="1.6"/><path d="M1.5 6h13M6 6v8.5" stroke="#374151" stroke-width="1.6"/></svg>
<div class="abs vtext" style="left:1893px;top:177px">Columns</div>
<svg class="abs" style="left:1894px;top:281px" width="16" height="14" viewBox="0 0 16 14"><path d="M1.5 2.5h13M4 6.5h8M6.5 10.5h3" stroke="#374151" stroke-width="1.8"/></svg>
<div class="abs vtext" style="left:1893px;top:305px">Filters</div>
<svg class="abs" style="left:1894px;top:391px" width="16" height="14" viewBox="0 0 16 14"><path d="M2 2.5h12M2 7h12M2 11.5h12" stroke="#374151" stroke-width="1.8"/></svg>
<div class="abs vtext" style="left:1893px;top:414px">Table Actions</div>

<!-- RANGE CHART DIALOG -->
<div class="abs" style="left:918px;top:386px;width:850px;height:470px;border:1px solid #d4d8de;border-radius:5px;background:#fff;box-shadow:0 2px 22px rgba(0,0,0,0.16);overflow:hidden">
  <div class="abs" style="left:0;top:0;width:848px;height:48px;background:#f8fafc;border-bottom:1px solid #cfd7e2"></div>
  <div class="abs" style="left:17px;top:16.5px;font-size:14.5px;color:#111827">Range Chart</div>
  <svg class="abs" style="left:768px;top:15px" width="18" height="18" viewBox="0 0 18 18"><path d="M3 15 L15 3M9.5 3H15V8.5M3 9.5V15H8.5" fill="none" stroke="#1f2937" stroke-width="1.6"/></svg>
  <svg class="abs" style="left:810px;top:17px" width="14" height="14" viewBox="0 0 14 14"><path d="M2 2L12 12M12 2L2 12" stroke="#1f2937" stroke-width="1.8"/></svg>
  <!-- treemap -->
<div class="abs" style="left:20px;top:88px;width:167px;height:180px;background:#e2cb00;"></div>
<div class="tml" style="left:103.5px;top:166.0px;font-size:19.5px;line-height:19.5px">21 ema retest</div>
<div class="abs" style="left:20px;top:269px;width:167px;height:179px;background:#fd9e3a;"></div>
<div class="tml" style="left:103.5px;top:336.9px;font-size:19.0px;line-height:19.0px">3 day</div>
<div class="tml" style="left:103.5px;top:357.9px;font-size:19.0px;line-height:19.0px">range break</div>
<div class="abs" style="left:188px;top:88px;width:139px;height:161px;background:#b0cd7e;box-shadow:inset 0 0 0 2px #55692e;"></div>
<div class="tml" style="left:257.5px;top:147.8px;font-size:18.5px;line-height:18.5px">52 week</div>
<div class="tml" style="left:257.5px;top:168.1px;font-size:18.5px;line-height:18.5px">high break</div>
<div class="abs" style="left:328px;top:88px;width:92px;height:161px;background:#52a352;"></div>
<div class="tml" style="left:374.0px;top:137.3px;font-size:18.5px;line-height:18.5px">1st</div>
<div class="tml" style="left:374.0px;top:158.3px;font-size:18.5px;line-height:18.5px">VWAP</div>
<div class="tml" style="left:374.0px;top:178.8px;font-size:18.5px;line-height:18.5px">test</div>
<div class="abs" style="left:421px;top:88px;width:70px;height:161px;background:#489f55;"></div>
<div class="tml" style="left:456.0px;top:147.3px;font-size:18.5px;line-height:18.5px">2nd</div>
<div class="tml" style="left:456.0px;top:168.1px;font-size:18.5px;line-height:18.5px">leg</div>
<div class="abs" style="left:188px;top:250px;width:94px;height:118px;background:#a2bb34;"></div>
<div class="tml" style="left:235.0px;top:288.8px;font-size:18.0px;line-height:18.0px">3 bar</div>
<div class="tml" style="left:235.0px;top:309.8px;font-size:18.0px;line-height:18.0px">break</div>
<div class="abs" style="left:188px;top:369px;width:94px;height:79px;background:#5aa452;"></div>
<div class="tml" style="left:235.0px;top:386.4px;font-size:19.0px;line-height:19.0px">1st 9ema</div>
<div class="tml" style="left:235.0px;top:407.9px;font-size:19.0px;line-height:19.0px">touch</div>
<div class="abs" style="left:283px;top:250px;width:93px;height:78px;background:#74ab4a;"></div>
<div class="tml" style="left:329.5px;top:269.1px;font-size:17.6px;line-height:17.6px">1st move</div>
<div class="tml" style="left:329.5px;top:290.1px;font-size:17.6px;line-height:17.6px">down</div>
<div class="abs" style="left:283px;top:329px;width:93px;height:79px;background:#98b83a;"></div>
<div class="tml" style="left:329.5px;top:337.3px;font-size:18.0px;line-height:18.0px">2nd</div>
<div class="tml" style="left:329.5px;top:358.8px;font-size:18.0px;line-height:18.0px">VWAP</div>
<div class="tml" style="left:329.5px;top:379.6px;font-size:18.0px;line-height:18.0px">test</div>
<div class="abs" style="left:283px;top:409px;width:93px;height:39px;background:#8db53e;"></div>
<div class="tml" style="left:329.5px;top:418.2px;font-size:17.5px;line-height:17.5px">2 bar...</div>
<div class="abs" style="left:377px;top:250px;width:56px;height:65px;background:#74ac4a;"></div>
<div class="tml" style="left:405.0px;top:255.4px;font-size:15.5px;line-height:15.5px">2day</div>
<div class="tml" style="left:405.0px;top:273.9px;font-size:15.5px;line-height:15.5px">VWAP</div>
<div class="tml" style="left:405.0px;top:292.7px;font-size:15.5px;line-height:15.5px">rebid</div>
<div class="abs" style="left:434px;top:250px;width:57px;height:65px;background:#8db53f;"></div>
<div class="tml" style="left:462.5px;top:257.2px;font-size:13.9px;line-height:13.9px">2nd</div>
<div class="tml" style="left:462.5px;top:274.2px;font-size:13.9px;line-height:13.9px">AVWAP</div>
<div class="tml" style="left:462.5px;top:291.4px;font-size:13.9px;line-height:13.9px">test</div>
<div class="abs" style="left:377px;top:316px;width:56px;height:65px;background:#60a751;"></div>
<div class="tml" style="left:405.0px;top:327.9px;font-size:17.0px;line-height:17.0px">3</div>
<div class="tml" style="left:405.0px;top:349.6px;font-size:17.0px;line-height:17.0px">min...</div>
<div class="abs" style="left:434px;top:316px;width:57px;height:65px;background:#5aa552;"></div>
<div class="tml" style="left:462.5px;top:326.7px;font-size:13.0px;line-height:13.0px">30year</div>
<div class="tml" style="left:462.5px;top:341.2px;font-size:13.0px;line-height:13.0px">bond</div>
<div class="tml" style="left:462.5px;top:356.5px;font-size:13.0px;line-height:13.0px">auction</div>
<div class="abs" style="left:377px;top:382px;width:56px;height:66px;background:#459e56;"></div>
<div class="tml" style="left:405.0px;top:405.1px;font-size:17.0px;line-height:17.0px">5 min...</div>
<div class="abs" style="left:434px;top:382px;width:57px;height:66px;background:#70aa4a;"></div>
<div class="tml" style="left:462.5px;top:397.5px;font-size:10.0px;line-height:10.0px">5min</div>
<div class="tml" style="left:462.5px;top:409.3px;font-size:10.0px;line-height:10.0px">9ema</div>
<div class="tml" style="left:462.5px;top:420.7px;font-size:10.0px;line-height:10.0px">continu...</div>
  <!-- kebab -->
  <svg class="abs" style="left:551px;top:63px" width="6" height="18" viewBox="0 0 6 18"><circle cx="3" cy="2.5" r="1.6" fill="#333"/><circle cx="3" cy="9" r="1.6" fill="#333"/><circle cx="3" cy="15.5" r="1.6" fill="#333"/></svg>
  <!-- color scale -->
  <div class="abs" style="left:511px;top:168px;width:16px;height:199px;background:linear-gradient(to bottom,#449b55 0%,#8ab43f 22%,#dccd00 50%,#f6b000 79%,#fe9c3a 100%)"></div>
  <svg class="abs" style="left:499px;top:205px" width="12" height="13" viewBox="0 0 12 13"><path d="M0.5 0.5 L11.5 6.5 L0.5 12.5Z" fill="#1a1a1a"/></svg>
  <div class="sclab" style="left:540px;top:212.5px">0</div>
  <div class="sclab" style="left:540px;top:269.5px">-50</div>
  <div class="sclab" style="left:540px;top:325.5px">-100</div>
  <!-- tooltip -->
  <div class="abs" style="left:207px;top:29px;width:164px;height:78px;background:#fafafa;border:1px solid #e3e3e3;border-radius:4px;box-shadow:0 1px 4px rgba(0,0,0,0.12)"></div>
  <svg class="abs" style="left:284px;top:106px" width="12" height="7" viewBox="0 0 12 7"><path d="M0 0 L6 6 L12 0Z" fill="#fafafa"/></svg>
  <div class="abs" style="left:219px;top:38px;width:13px;height:13px;background:#8bb43f"></div>
  <div class="ttx" style="left:240px;top:37px">52 week high break</div>
  <div class="ttx" style="left:220px;top:60px">Total Trades</div>
  <div class="ttx" style="left:220px;top:60px;width:139px;text-align:right">6</div>
  <div class="ttx" style="left:220px;top:83px">PnL</div>
  <div class="ttx" style="left:220px;top:83px;width:139px;text-align:right">1.4744</div>
  <!-- cursor -->
  <svg class="abs" style="left:287px;top:112px" width="14" height="22" viewBox="0 0 14 22"><path d="M1 1 L1 17 L4.8 13.5 L7.5 19.8 L10 18.7 L7.4 12.6 L12.5 12.6Z" fill="#fff" stroke="#111" stroke-width="1.1" stroke-linejoin="round"/></svg>

  <!-- right panel -->
  <div class="abs" style="left:588px;top:48px;width:260px;height:420px;background:#fafafa;border-left:1px solid #cdd5e0"></div>
  <!-- partial area chart icon -->
  <div class="abs" style="left:601px;top:50px;width:60px;height:64px;border:1px solid #cdd5e0;border-radius:7px;background:#fafafa;overflow:hidden">
    <svg class="abs" style="left:-1px;top:-1px" width="60" height="64" viewBox="0 0 60 64"><defs><linearGradient id="ga" x1="0" y1="0" x2="0" y2="1"><stop offset="0" stop-color="#fdf0e0"/><stop offset="1" stop-color="#fea64a"/></linearGradient><linearGradient id="gb" x1="0" y1="0" x2="0" y2="1"><stop offset="0" stop-color="#e3f0e6"/><stop offset="1" stop-color="#5aad6a"/></linearGradient></defs>
    <path d="M8 30 L55 30 L55 41 L26.6 44.5 L19 50 L8 43Z" fill="url(#ga)"/>
    <path d="M18 31 L37 52 L53 40.5 L43 31Z" fill="url(#gb)" opacity="0.9"/>
    <path d="M7.5 30 V60 M5 57.4 H56" stroke="#737373" stroke-width="1.3"/></svg>
  </div>
  <!-- tabs -->
  <div class="abs" style="left:588px;top:48px;width:260px;height:34px;background:#f8f8f8;border-left:1px solid #cdd5e0"></div>
  <div class="abs" style="left:622px;top:81px;width:226px;height:1px;background:#cdd5e0"></div>
  <div class="abs" style="left:690px;top:48px;width:158px;height:33px;background:#ededef"></div>
  <div class="abs" style="left:622px;top:48px;width:69px;height:34px;background:#fff;border-left:1px solid #cdd5e0;border-right:1px solid #cdd5e0;border-bottom:1px solid #cdd5e0"></div>
  <svg class="abs" style="left:599px;top:59px" width="12" height="12" viewBox="0 0 12 12"><path d="M1.5 1.5L10.5 10.5M10.5 1.5L1.5 10.5" stroke="#1f2937" stroke-width="1.6"/></svg>
  <div class="tab" style="left:639px;color:#1f2937">Chart</div>
  <div class="tab" style="left:703px">Set Up</div>
  <div class="tab" style="left:769px">Customize</div>
  <!-- sections -->
  <div class="sect" style="left:601px;top:127px">Hierarchical</div>
  <div class="abs" style="left:601px;top:155px;width:60px;height:62px;border:2px solid #1a8cff;border-radius:7px;background:#fafafa"></div>
  <svg class="abs" style="left:609px;top:163px" width="46" height="46" viewBox="0 0 46 46">
    <rect x="0" y="0" width="30" height="22" fill="#508fdd"/><rect x="32" y="0" width="14" height="22" fill="#459b55"/>
    <rect x="0" y="24" width="30" height="22" fill="#fd9c38"/><rect x="32" y="24" width="14" height="14" fill="#35bde0"/><rect x="32" y="40" width="14" height="6" fill="#dfce00"/>
  </svg>
  <div class="abs" style="left:681px;top:155px;width:60px;height:62px;border:1px solid #cdd5e0;border-radius:7px;background:#fafafa"></div>
  <svg class="abs" style="left:688px;top:163px" width="46" height="46" viewBox="-23 -23 46 46">
    <g stroke="#fafafa" stroke-width="1.4">
    <path d="M0 -23 A23 23 0 0 1 19.92 11.5 L0 0Z" fill="#508fdd"/>
    <path d="M19.92 11.5 A23 23 0 0 1 -19.92 11.5 L0 0Z" fill="#fd9c38"/>
    <path d="M-19.92 11.5 A23 23 0 0 1 0 -23 L0 0Z" fill="#459b55"/>
    <path d="M0 0 L0 -23M0 0 L19.92 -11.5M0 0 L19.92 11.5M0 0 L0 23M0 0 L-19.92 11.5M0 0 L-19.92 -11.5" fill="none"/>
    </g>
    <circle cx="0" cy="0" r="12" fill="none" stroke="#fafafa" stroke-width="1.6"/>
    <g stroke="#459b55" stroke-width="0"></g>
    <path d="M0 -11.2 A11.2 11.2 0 0 1 9.7 5.6 L0 0Z" fill="#508fdd"/>
    <path d="M9.7 5.6 A11.2 11.2 0 0 1 -9.7 5.6 L0 0Z" fill="#fd9c38"/>
    <path d="M-9.7 5.6 A11.2 11.2 0 0 1 0 -11.2 L0 0Z" fill="#459b55"/>
    <path d="M0 0 L0 -12M0 0 L10.4 6M0 0 L-10.4 6" stroke="#fafafa" stroke-width="1.4"/>
  </svg>
  <div class="sect" style="left:601px;top:230px">Specialized</div>
  <div class="abs" style="left:601px;top:258px;width:60px;height:62px;border:1px solid #cdd5e0;border-radius:7px;background:#fafafa"></div>
  <svg class="abs" style="left:610px;top:267px" width="44" height="44" viewBox="0 0 44 44">
    <rect x="0" y="0" width="14" height="14" fill="#fd9c38"/><rect x="15" y="0" width="14" height="14" fill="#ecb21c"/><rect x="30" y="0" width="14" height="14" fill="#dfd000"/>
    <rect x="0" y="15" width="14" height="14" fill="#f8a032"/><rect x="15" y="15" width="14" height="14" fill="#e8b812"/><rect x="30" y="15" width="14" height="14" fill="#d8de00"/>
    <rect x="0" y="30" width="14" height="14" fill="#f2ae2a"/><rect x="15" y="30" width="14" height="14" fill="#e0c600"/><rect x="30" y="30" width="14" height="14" fill="#cde500"/>
  </svg>
  <div class="abs" style="left:681px;top:258px;width:60px;height:62px;border:1px solid #cdd5e0;border-radius:7px;background:#fafafa"></div>
  <svg class="abs" style="left:681px;top:258px" width="60" height="62" viewBox="0 0 60 62">
    <path d="M7 7 V57 M5 55 H55.5" stroke="#666" stroke-width="1" fill="none"/>
    <rect x="10" y="35" width="7" height="15" fill="#508fdd"/>
    <rect x="19" y="23" width="7" height="12" fill="#508fdd"/>
    <rect x="27" y="23" width="8" height="12" fill="#fd9c38"/>
    <rect x="36" y="12" width="7" height="23" fill="#508fdd"/>
    <rect x="45" y="12" width="7" height="11" fill="#fd9c38"/>
  </svg>
  <div class="sect" style="left:601px;top:333px">Funnel</div>
  <div class="abs" style="left:601px;top:361px;width:60px;height:62px;border:1px solid #cdd5e0;border-radius:7px;background:#fafafa"></div>
  <svg class="abs" style="left:601px;top:361px" width="60" height="62" viewBox="0 0 60 62">
    <rect x="7" y="7" width="48" height="13" fill="#508fdd"/><rect x="12" y="24" width="38" height="13" fill="#508fdd"/><rect x="21" y="40" width="20" height="15" fill="#508fdd"/>
  </svg>
  <div class="abs" style="left:681px;top:361px;width:60px;height:62px;border:1px solid #cdd5e0;border-radius:7px;background:#fafafa"></div>
  <svg class="abs" style="left:681px;top:361px" width="60" height="62" viewBox="0 0 60 62">
    <path d="M7.4 7 H54.8 L46 21 H16.2Z" fill="#508fdd"/><path d="M16.2 21 H46 L35 40 H27Z" fill="#72a3e0"/><rect x="27" y="40" width="8" height="15" fill="#93b9e9"/>
  </svg>
  <div class="abs" style="left:761px;top:361px;width:60px;height:62px;border:1px solid #cdd5e0;border-radius:7px;background:#fafafa"></div>
  <svg class="abs" style="left:761px;top:361px" width="60" height="62" viewBox="0 0 60 62">
    <path d="M31 7.5 L37 20 H25Z" fill="#508fdd"/><path d="M20.6 23.5 H41.4 L45 36.8 H17Z" fill="#fd9c38"/><path d="M15 40.2 H47.2 L54.8 55 H7Z" fill="#459b55"/>
  </svg>
  <!-- panel scrollbar -->
  <svg class="abs" style="left:835px;top:86px" width="11" height="8" viewBox="0 0 11 8"><path d="M1 7 L5.5 1 L10 7Z" fill="#b0b0b0"/></svg>
  <div class="abs" style="left:836px;top:313px;width:9px;height:83px;background:#8a8a8a;border-radius:5px"></div>
  <svg class="abs" style="left:835px;top:426px" width="11" height="8" viewBox="0 0 11 8"><path d="M1 1 L5.5 7 L10 1Z" fill="#8a8a8a"/></svg>
  <!-- bottom nav -->
  <div class="abs" style="left:588px;top:437px;width:260px;height:1px;background:#cdd5e0"></div>
  <svg class="abs" style="left:602px;top:448px" width="10" height="12" viewBox="0 0 10 12"><path d="M7 1.5L2.5 6L7 10.5" fill="none" stroke="#222" stroke-width="1.7"/></svg>
  <div class="dot" style="left:644px;background:#1e90ff"></div>
  <div class="dot" style="left:681px"></div>
  <div class="dot" style="left:718px"></div>
  <div class="dot" style="left:756px"></div>
  <div class="dot" style="left:793px"></div>
  <svg class="abs" style="left:825px;top:448px" width="10" height="12" viewBox="0 0 10 12"><path d="M3 1.5L7.5 6L3 10.5" fill="none" stroke="#222" stroke-width="1.7"/></svg>
</div>

</body></html>
